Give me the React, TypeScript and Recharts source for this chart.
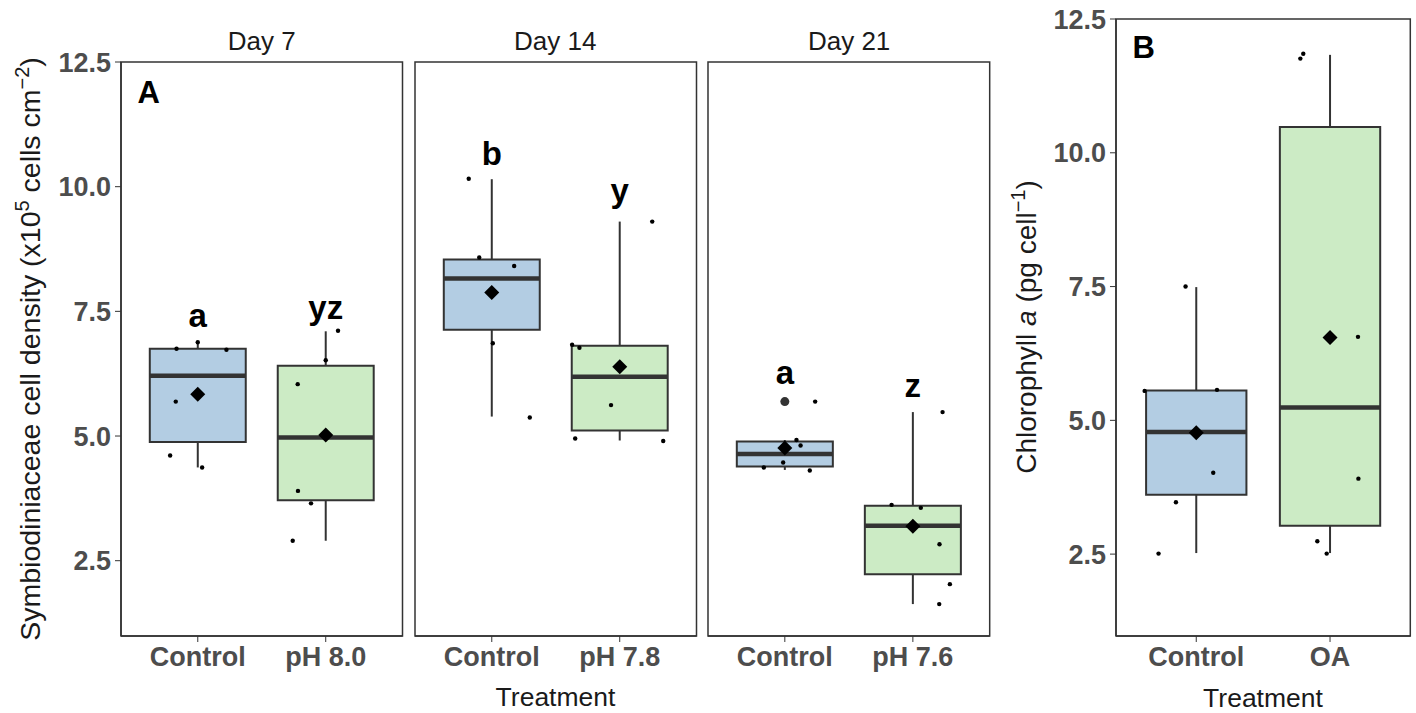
import { ComposedChart, XAxis, YAxis, Scatter, ReferenceArea, ReferenceLine } from "recharts";

const FONT = "Liberation Sans, Arial, sans-serif";

// panel A: three days, each with Control + one lowered pH treatment
const days = ["Day 7", "Day 14", "Day 21"];
const treatA = [
  ["Control", "pH 8.0"],
  ["Control", "pH 7.8"],
  ["Control", "pH 7.6"],
];
const q1A = [[4.88, 3.71], [7.13, 5.11], [4.39, 2.23]];
const medA = [[6.21, 4.97], [8.16, 6.19], [4.64, 3.2]];
const q3A = [[6.75, 6.41], [8.54, 6.81], [4.89, 3.6]];
const loA = [[4.37, 2.9], [5.39, 4.91], [4.32, 1.63]];
const hiA = [[6.88, 7.1], [10.15, 9.3], [4.92, 5.48]];
const meanA = [[5.84, 5.02], [7.88, 6.39], [4.76, 3.19]];
const outA = [[[], []], [[], []], [[5.69], []]];
const ptsA = [
  [[6.75, 6.88, 6.73, 5.69, 4.61, 4.37], [7.11, 6.52, 6.04, 3.9, 3.65, 2.9]],
  [[10.16, 8.58, 8.41, 6.86, 5.37, 7.9], [9.3, 6.83, 6.77, 5.62, 4.95, 4.9]],
  [[5.69, 4.92, 4.81, 4.47, 4.37, 4.31], [5.48, 3.62, 3.56, 2.83, 2.03, 1.63]],
];
const jitA = [
  [[-0.166, 0, 0.224, -0.172, -0.216, 0.034], [0.096, 0, -0.219, -0.217, -0.115, -0.258]],
  [[-0.18, -0.098, 0.175, 0.008, 0.297, 0.02], [0.254, -0.372, -0.315, -0.068, -0.348, 0.34]],
  [[0.237, 0.091, 0.123, -0.013, -0.164, 0.195], [0.232, -0.166, 0.062, 0.208, 0.289, 0.206]],
];
const lettersA = [["a", "yz"], ["b", "y"], ["a", "z"]];
const letterYA = [[7.43, 7.59], [10.68, 9.93], [6.29, 6.02]];

// panel B: chlorophyll a
const treatB = ["Control", "OA"];
const q1B = [3.61, 3.03];
const medB = [4.78, 5.24];
const q3B = [5.56, 10.48];
const loB = [2.52, 2.52];
const hiB = [7.49, 11.83];
const meanB = [4.77, 6.55];
const ptsB = [
  [7.5, 5.55, 5.57, 4.02, 3.47, 2.51],
  [11.85, 11.76, 6.56, 3.91, 2.74, 2.51],
];
const jitB = [
  [-0.08, -0.386, 0.155, 0.127, -0.152, -0.282],
  [-0.2, -0.222, 0.209, 0.212, -0.095, -0.025],
];

const yTicks = [2.5, 5, 7.5, 10, 12.5];
const fills = ["#b3cde3", "#ccebc5"];
const BW = 0.75;
const H = 713;
const PADL = 110;
const PADR = 10;
const YW = 100;
const XH = 50;

type Rect = { x: number; y: number; w: number; h: number };

type PanelProps = {
  rect: Rect;
  cats: string[];
  yDomain: [number, number];
  showY: boolean;
  q1: number[];
  med: number[];
  q3: number[];
  lo: number[];
  hi: number[];
  mean: number[];
  pts: number[][];
  jit: number[][];
  outliers?: number[][];
  letters?: string[];
  letterY?: number[];
};

const tickStyle = { fill: "#4d4d4d", fontSize: 27, fontWeight: 700, fontFamily: FONT };

function Panel(p: PanelProps) {
  const { rect } = p;
  const pointData = p.pts.flatMap((arr, i) =>
    arr.map((v, k) => ({ x: i + 1 + p.jit[i][k], y: v }))
  );
  const meanData = p.mean.map((v, i) => ({ x: i + 1, y: v }));
  const outData = (p.outliers || []).flatMap((arr, i) => arr.map((v) => ({ x: i + 1, y: v })));
  const letterData = (p.letterY || []).map((v, i) => ({ x: i + 1, y: v, label: p.letters![i] }));

  return (
    <div style={{ position: "absolute", left: rect.x - PADL, top: 0 }}>
      <ComposedChart
        width={rect.w + PADL + PADR}
        height={H}
        margin={{
          top: rect.y,
          right: PADR,
          bottom: H - rect.y - rect.h - XH,
          left: p.showY ? PADL - YW : PADL,
        }}
      >
        <XAxis
          type="number"
          dataKey="x"
          domain={[0.4, 2.6]}
          ticks={[1, 2]}
          allowDataOverflow
          tickFormatter={(v: number) => p.cats[v - 1]}
          height={XH}
          tick={tickStyle}
          tickLine={{ stroke: "#333" }}
          tickSize={6}
          tickMargin={5}
          axisLine={{ stroke: "#333", strokeWidth: 1.5 }}
        />
        <YAxis
          type="number"
          dataKey="y"
          domain={p.yDomain}
          ticks={yTicks}
          allowDataOverflow
          hide={!p.showY}
          width={YW}
          tickFormatter={(v: number) => v.toFixed(1)}
          tick={tickStyle}
          tickLine={{ stroke: "#333" }}
          tickSize={6}
          tickMargin={4}
          axisLine={{ stroke: "#333", strokeWidth: 1.5 }}
        />
        {p.cats.map((c, i) => (
          <ReferenceArea
            key={"box" + c + i}
            x1={i + 1 - BW / 2}
            x2={i + 1 + BW / 2}
            y1={p.q1[i]}
            y2={p.q3[i]}
            fill={fills[i]}
            fillOpacity={1}
            stroke="#333"
            strokeWidth={2}
          />
        ))}
        {p.cats.map((c, i) => (
          <ReferenceLine
            key={"wh" + c + i}
            segment={[{ x: i + 1, y: p.q3[i] }, { x: i + 1, y: p.hi[i] }]}
            stroke="#333"
            strokeWidth={2}
          />
        ))}
        {p.cats.map((c, i) => (
          <ReferenceLine
            key={"wl" + c + i}
            segment={[{ x: i + 1, y: p.q1[i] }, { x: i + 1, y: p.lo[i] }]}
            stroke="#333"
            strokeWidth={2}
          />
        ))}
        {p.cats.map((c, i) => (
          <ReferenceLine
            key={"md" + c + i}
            segment={[{ x: i + 1 - BW / 2, y: p.med[i] }, { x: i + 1 + BW / 2, y: p.med[i] }]}
            stroke="#333"
            strokeWidth={4.5}
          />
        ))}
        <ReferenceArea
          x1={0.4}
          x2={2.6}
          y1={p.yDomain[0]}
          y2={p.yDomain[1]}
          fill="none"
          stroke="#333"
          strokeWidth={1.5}
        />
        <Scatter
          data={outData}
          isAnimationActive={false}
          shape={(s: any) => <circle cx={s.cx} cy={s.cy} r={4.5} fill="#333" />}
        />
        <Scatter
          data={pointData}
          isAnimationActive={false}
          shape={(s: any) => <circle cx={s.cx} cy={s.cy} r={2.2} fill="#000" />}
        />
        <Scatter
          data={meanData}
          isAnimationActive={false}
          shape={(s: any) => (
            <polygon
              points={`${s.cx},${s.cy - 7.5} ${s.cx + 7.5},${s.cy} ${s.cx},${s.cy + 7.5} ${s.cx - 7.5},${s.cy}`}
              fill="#000"
            />
          )}
        />
        <Scatter
          data={letterData}
          isAnimationActive={false}
          shape={(s: any) => (
            <text
              x={s.cx}
              y={s.cy}
              dy="0.36em"
              textAnchor="middle"
              fontSize={33}
              fontWeight={700}
              fontFamily={FONT}
              fill="#000"
            >
              {s.payload.label}
            </text>
          )}
        />
      </ComposedChart>
    </div>
  );
}

const rectsA: Rect[] = [
  { x: 121, y: 62, w: 281.5, h: 574 },
  { x: 414.5, y: 62, w: 281.5, h: 574 },
  { x: 708.3, y: 62, w: 281.7, h: 574 },
];
const rectB: Rect = { x: 1115.7, y: 19, w: 294.3, h: 617 };

export default function App() {
  return (
    <div
      style={{
        position: "absolute",
        left: 0,
        top: 0,
        width: 1416,
        height: H,
        background: "#fff",
        fontFamily: FONT,
      }}
    >
      {days.map((d, di) => (
        <Panel
          key={d}
          rect={rectsA[di]}
          cats={treatA[di]}
          yDomain={[0.99, 12.5]}
          showY={di === 0}
          q1={q1A[di]}
          med={medA[di]}
          q3={q3A[di]}
          lo={loA[di]}
          hi={hiA[di]}
          mean={meanA[di]}
          pts={ptsA[di]}
          jit={jitA[di]}
          outliers={outA[di]}
          letters={lettersA[di]}
          letterY={letterYA[di]}
        />
      ))}
      <Panel
        rect={rectB}
        cats={treatB}
        yDomain={[0.97, 12.5]}
        showY
        q1={q1B}
        med={medB}
        q3={q3B}
        lo={loB}
        hi={hiB}
        mean={meanB}
        pts={ptsB}
        jit={jitB}
      />
      <svg
        width={1416}
        height={H}
        style={{ position: "absolute", left: 0, top: 0, pointerEvents: "none" }}
        fontFamily={FONT}
      >
        {days.map((d, di) => (
          <text
            key={d}
            x={rectsA[di].x + rectsA[di].w / 2}
            y={50}
            textAnchor="middle"
            fontSize={26}
            fill="#1a1a1a"
          >
            {d}
          </text>
        ))}
        <text x={137.5} y={103} fontSize={31} fontWeight={700} fill="#000">
          A
        </text>
        <text x={1132.5} y={57.5} fontSize={31} fontWeight={700} fill="#000">
          B
        </text>
        <text x={555.5} y={706} textAnchor="middle" fontSize={26.5} fill="#1a1a1a">
          Treatment
        </text>
        <text x={1263} y={707} textAnchor="middle" fontSize={26.5} fill="#1a1a1a">
          Treatment
        </text>
        <text
          transform="translate(40,349) rotate(-90)"
          textAnchor="middle"
          fontSize={28.5}
          fill="#1a1a1a"
        >
          Symbiodiniaceae cell density (x10
          <tspan dy={-11} fontSize={20}>5</tspan>
          <tspan dy={11}> cells cm</tspan>
          <tspan dy={-11} fontSize={20}>−2</tspan>
          <tspan dy={11}>)</tspan>
        </text>
        <text
          transform="translate(1036,327) rotate(-90)"
          textAnchor="middle"
          fontSize={28}
          fill="#1a1a1a"
        >
          Chlorophyll <tspan fontStyle="italic">a</tspan> (pg cell
          <tspan dy={-11} fontSize={20}>−1</tspan>
          <tspan dy={11}>)</tspan>
        </text>
      </svg>
    </div>
  );
}
